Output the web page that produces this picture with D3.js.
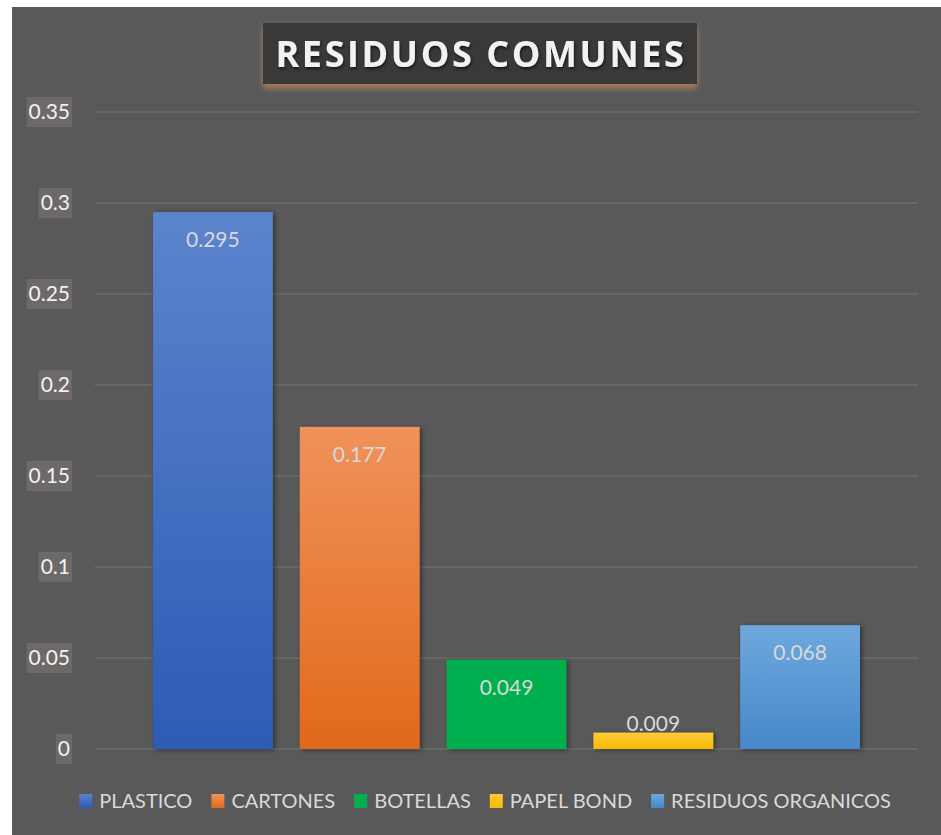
<!DOCTYPE html>
<html>
<head>
<meta charset="utf-8">
<script src="https://cdn.jsdelivr.net/npm/d3@7"></script>
<style>
  html, body { margin: 0; padding: 0; background: #ffffff; }
  svg { display: block; }
</style>
</head>
<body>
<svg id="chart" width="941" height="835"></svg>
<script>
// ---- data ----
const categories = ["PLASTICO", "CARTONES", "BOTELLAS", "PAPEL BOND", "RESIDUOS ORGANICOS"];
const values = [0.295, 0.177, 0.049, 0.009, 0.068];
const yTicks = [0, 0.05, 0.1, 0.15, 0.2, 0.25, 0.3, 0.35];
const yTickLabels = ["0", "0.05", "0.1", "0.15", "0.2", "0.25", "0.3", "0.35"];
const colorsTop = ["#5c84cd", "#f0925a", "#00b050", "#ffca3a", "#6fa8de"];
const colorsBottom = ["#2d5bb5", "#e1691a", "#00b050", "#f4bd00", "#4688c9"];
const title = "RESIDUOS COMUNES";

const svg = d3.select("#chart");
const W = 941, H = 835;
const font = "Lato, 'Open Sans', sans-serif";

// background
svg.append("rect").attr("x", 12).attr("y", 7).attr("width", W - 12).attr("height", H - 7).attr("fill", "#595959");

const defs = svg.append("defs");
categories.forEach((c, i) => {
  const g = defs.append("linearGradient").attr("id", "grad" + i)
    .attr("x1", 0).attr("y1", 0).attr("x2", 0).attr("y2", 1);
  g.append("stop").attr("offset", "0%").attr("stop-color", colorsTop[i]);
  g.append("stop").attr("offset", "100%").attr("stop-color", colorsBottom[i]);
});
const sh = defs.append("filter").attr("id", "barShadow").attr("x", "-20%").attr("y", "-20%").attr("width", "140%").attr("height", "140%");
sh.append("feDropShadow").attr("dx", 2).attr("dy", 1).attr("stdDeviation", 2.5).attr("flood-color", "#000").attr("flood-opacity", 0.45);
const tsh = defs.append("filter").attr("id", "titleShadow").attr("x", "-10%").attr("y", "-30%").attr("width", "120%").attr("height", "170%");
tsh.append("feDropShadow").attr("dx", 0).attr("dy", 4).attr("stdDeviation", 3).attr("flood-color", "#c08a64").attr("flood-opacity", 0.8);
const txtsh = defs.append("filter").attr("id", "textShadow");
txtsh.append("feDropShadow").attr("dx", 1).attr("dy", 2).attr("stdDeviation", 1.5).attr("flood-color", "#000").attr("flood-opacity", 0.6);

// scales
const plotLeft = 95, plotRight = 918;
const y = d3.scaleLinear().domain([0, 0.35]).range([749, 112]);
const x = d3.scaleBand().domain(categories).range([139.5, 873.5]).paddingInner(0.184).paddingOuter(0.092);

// gridlines
svg.append("g").selectAll("line").data(yTicks).join("line")
  .attr("x1", plotLeft).attr("x2", plotRight)
  .attr("y1", d => y(d)).attr("y2", d => y(d))
  .attr("stroke", "#6c6c6c").attr("stroke-width", 1.5);

// y axis labels with background boxes
const yAxisG = svg.append("g");
yTicks.forEach((t, i) => {
  const g = yAxisG.append("g");
  const txt = g.append("text")
    .attr("x", 70).attr("y", y(t)).attr("dy", "0.35em")
    .attr("text-anchor", "end")
    .attr("font-family", font).attr("font-size", 21)
    .attr("fill", "#f2f2f2").text(yTickLabels[i]);
  const bb = txt.node().getBBox();
  g.insert("rect", "text")
    .attr("x", bb.x - 2).attr("y", y(t) - 15).attr("width", bb.width + 4).attr("height", 30)
    .attr("fill", "#6d6968");
});

// bars
svg.append("g").selectAll("rect").data(values).join("rect")
  .attr("x", (d, i) => x(categories[i]))
  .attr("y", d => y(d))
  .attr("width", x.bandwidth())
  .attr("height", d => y(0) - y(d))
  .attr("fill", (d, i) => "url(#grad" + i + ")")
  .attr("filter", "url(#barShadow)");

// value labels
svg.append("g").selectAll("text").data(values).join("text")
  .attr("x", (d, i) => x(categories[i]) + x.bandwidth() / 2)
  .attr("y", d => (y(0) - y(d) > 40) ? y(d) + 35 : y(d) - 2)
  .attr("text-anchor", "middle")
  .attr("font-family", font).attr("font-size", 21)
  .attr("fill", "#d9d9d9")
  .text(d => String(d));

// title
const titleG = svg.append("g");
titleG.append("rect").attr("x", 263).attr("y", 23).attr("width", 434).attr("height", 61)
  .attr("fill", "#3b3938").attr("filter", "url(#titleShadow)");
titleG.append("text").attr("x", 481).attr("y", 54).attr("dy", "0.35em")
  .attr("text-anchor", "middle")
  .attr("font-family", "'Open Sans', sans-serif").attr("font-weight", "bold").attr("font-size", 36)
  .attr("letter-spacing", 2.6)
  .attr("fill", "#f2f2f2").attr("filter", "url(#textShadow)")
  .text(title);

// legend
const legend = svg.append("g");
const items = [];
categories.forEach((c, i) => {
  const g = legend.append("g");
  g.append("rect").attr("width", 13).attr("height", 14).attr("y", -7).attr("fill", "url(#grad" + i + ")");
  const t = g.append("text").attr("x", 20).attr("dy", "0.35em")
    .attr("font-family", font).attr("font-size", 20).attr("fill", "#d9d9d9").text(c);
  items.push({ g, w: 20 + t.node().getComputedTextLength() });
});
const gap = 19;
const totalW = d3.sum(items, d => d.w) + gap * (items.length - 1);
let cx = 485 - totalW / 2;
items.forEach(it => {
  it.g.attr("transform", `translate(${cx},801)`);
  cx += it.w + gap;
});
</script>
</body>
</html>
